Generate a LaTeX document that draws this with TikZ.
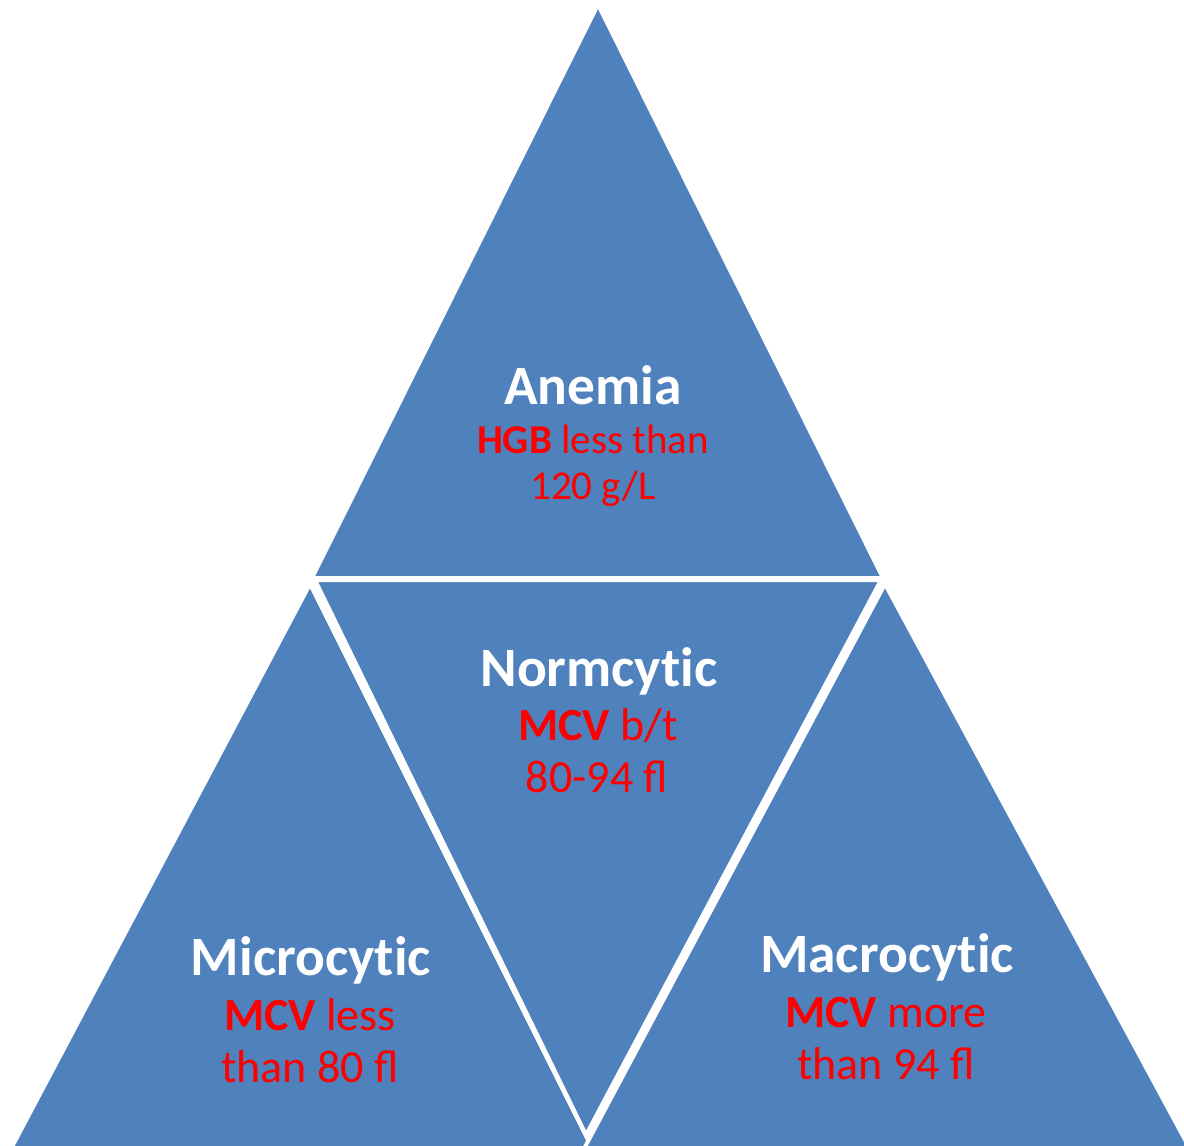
\documentclass[tikz,border=0pt]{standalone}
\usepackage{fontspec}
\setmainfont[Ligatures=NoCommon]{Carlito}
\definecolor{pblue}{HTML}{4F81BD}
\definecolor{pred}{HTML}{FF0000}
\tikzset{
  tri/.style={fill=pblue, draw=white, line width=4pt, line join=miter},
  ttl/.style={anchor=base, inner sep=0pt, text=white, font=\bfseries\fontsize{55.5}{60}\selectfont},
  sub/.style={anchor=base, inner sep=0pt, text=pred, font=\fontsize{46}{50}\selectfont},
  subtop/.style={sub, font=\fontsize{41}{45}\selectfont},
}
\begin{document}
\begin{tikzpicture}[x=1pt,y=-1pt]
\useasboundingbox (0,0) rectangle (1184,1146);
\clip (0,0) rectangle (1184,1146);
\fill[white] (0,0) rectangle (1184,1146);
% triangles
\draw[tri] (598,4.5) -- (883,578) -- (312,578) -- cycle;
\draw[tri] (310,584) -- (598,1160) -- (5,1160) -- cycle;
\draw[tri] (885,584) -- (1196,1160) -- (578,1160) -- cycle;
\draw[tri] (315,580) -- (881,580) -- (586,1135) -- cycle;
% texts
\node[ttl] (anT) at (593,404) {Anemia};
\node[subtop] (anA) at (593,453) {\textbf{HGB} less than};
\node[subtop] (anB) at (593,499) {120 g/L};
\node[ttl] (noT) at (599,686) {Normcytic};
\node[sub] (noA) at (598,740) {\textbf{MCV} b/t};
\node[sub] (noB) at (597,792) {80-94 ﬂ};
\node[ttl] (miT) at (311,975) {Microcytic};
\node[sub] (miA) at (310,1030) {\textbf{MCV} less};
\node[sub] (miB) at (310,1082) {than 80 ﬂ};
\node[ttl] (maT) at (887,972) {Macrocytic};
\node[sub] (maA) at (886,1027) {\textbf{MCV} more};
\node[sub] (maB) at (886,1079) {than 94 ﬂ};
\end{tikzpicture}
\end{document}
